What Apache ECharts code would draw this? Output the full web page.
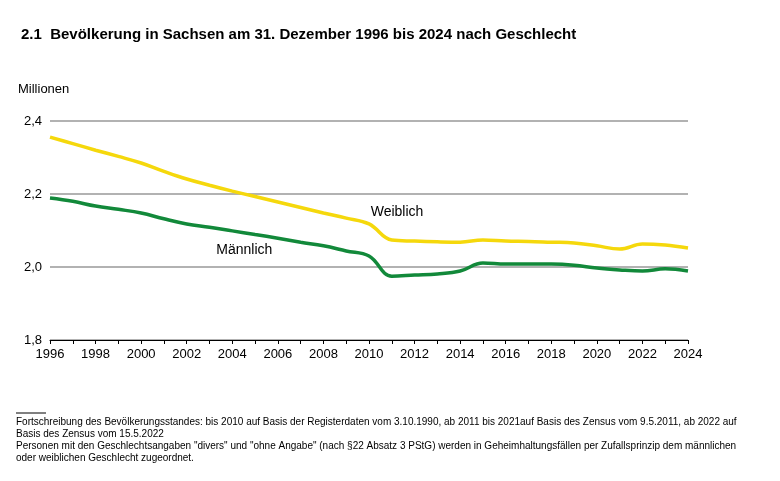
<!DOCTYPE html><html><head><meta charset="utf-8"><script src="https://cdn.jsdelivr.net/npm/echarts@6/dist/echarts.min.js"></script>
<style>body{margin:0}#c{width:780px;height:481px}</style></head><body><div id="c"></div><script>
const years=[];for(let y=1996;y<=2024;y++)years.push(String(y));
const weiblich=[2.356,2.338,2.320,2.303,2.285,2.262,2.241,2.224,2.208,2.193,2.178,2.163,2.148,2.134,2.118,2.074,2.071,2.069,2.068,2.074,2.071,2.070,2.068,2.066,2.058,2.049,2.063,2.060,2.052];
const maennlich=[2.189,2.180,2.167,2.158,2.148,2.132,2.118,2.109,2.099,2.089,2.079,2.068,2.058,2.044,2.030,1.975,1.978,1.981,1.989,2.011,2.008,2.008,2.008,2.005,1.997,1.992,1.989,1.995,1.989];
const F='Liberation Sans, Arial, sans-serif';
const c=echarts.init(document.getElementById('c'));
c.setOption({animation:false,
title:{text:'2.1  Bevölkerung in Sachsen am 31. Dezember 1996 bis 2024 nach Geschlecht',left:16,top:22,textStyle:{fontFamily:F,fontSize:15,fontWeight:'bold',color:'#000'}},
grid:{left:50,right:92,top:121,bottom:141},
xAxis:{type:'category',data:years,boundaryGap:false,axisLine:{lineStyle:{color:'#000'}},axisTick:{interval:0,length:4,lineStyle:{color:'#000'}},axisLabel:{interval:1,color:'#000',fontFamily:F,fontSize:13,margin:8}},
yAxis:{type:'value',min:1.8,max:2.4,interval:0.2,name:'Millionen',nameLocation:'end',nameGap:25,nameTextStyle:{align:'left',padding:[0,0,0,-32],color:'#000',fontFamily:F,fontSize:13},
axisLabel:{color:'#000',fontFamily:F,fontSize:13,formatter:v=>v.toFixed(1).replace('.',',')},axisLine:{show:false},axisTick:{show:false},splitLine:{lineStyle:{color:'#999',width:1.5}}},
series:[
{type:'line',data:weiblich,smooth:0.4,symbol:'none',lineStyle:{color:'#f5d80c',width:3.5},
 markPoint:{symbol:'circle',symbolSize:0,data:[{coord:['2010',2.118],label:{show:true,position:'inside',formatter:'Weiblich',offset:[28,-12],color:'#000',fontFamily:F,fontSize:14}}]}},
{type:'line',data:maennlich,smooth:0.4,symbol:'none',lineStyle:{color:'#12893a',width:3.5},
 markPoint:{symbol:'circle',symbolSize:0,data:[{coord:['2004',2.099],label:{show:true,position:'inside',formatter:'Männlich',offset:[12,19],color:'#000',fontFamily:F,fontSize:14}}]}}
],
graphic:[
{type:'line',shape:{x1:16,y1:413,x2:46,y2:413},style:{stroke:'#000',lineWidth:1}},
{type:'text',left:16,top:416,style:{text:'Fortschreibung des Bevölkerungsstandes: bis 2010 auf Basis der Registerdaten vom 3.10.1990, ab 2011 bis 2021auf Basis des Zensus vom 9.5.2011, ab 2022 auf\nBasis des Zensus vom 15.5.2022\nPersonen mit den Geschlechtsangaben "divers" und "ohne Angabe" (nach §22 Absatz 3 PStG) werden in Geheimhaltungsfällen per Zufallsprinzip dem männlichen\noder weiblichen Geschlecht zugeordnet.',font:'10px '+F,fill:'#000',lineHeight:12}}
]});
</script></body></html>
